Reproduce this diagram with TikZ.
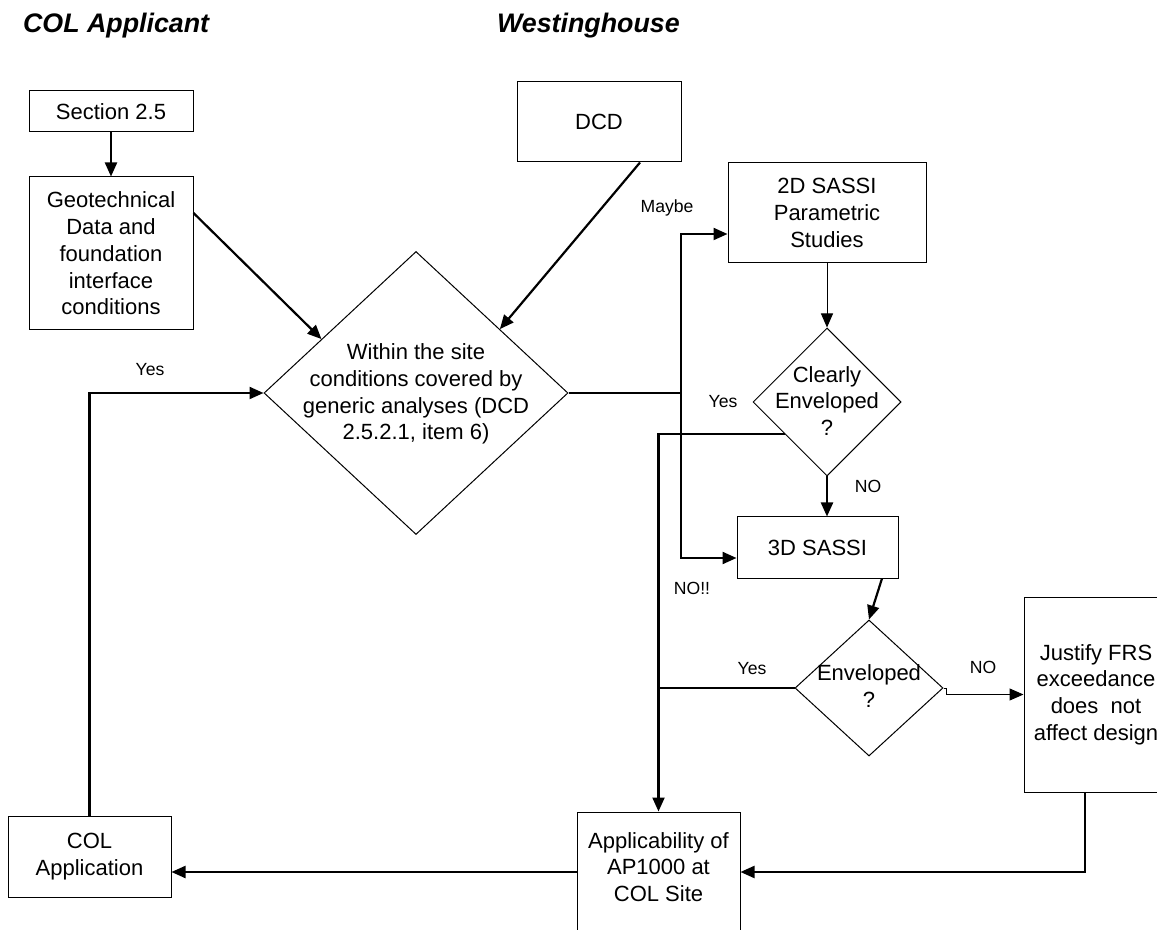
\documentclass[tikz,border=0pt]{standalone}
\usepackage{fontspec}
\setmainfont{Liberation Sans}
\usetikzlibrary{arrows.meta,calc,shapes.geometric}

\begin{document}
\begin{tikzpicture}[x=0.5pt, y=-0.5pt, >={Triangle[length=7pt,width=6pt]},
  box/.style={draw, line width=0.5pt, align=center, inner sep=0pt, font=\fontsize{11}{13.35}\selectfont},
  dia/.style={draw, diamond, line width=0.5pt, inner sep=0pt},
  txt/.style={align=center, font=\fontsize{11}{13.35}\selectfont},
  lbl/.style={font=\fontsize{8.8}{10}\selectfont},
  head/.style={anchor=base west, font=\fontsize{13.4}{15}\selectfont\bfseries\itshape},
  flow/.style={->, line width=1.1pt},
  thinflow/.style={->, line width=0.5pt}]
  \clip (0,0) rectangle (1157,930);

  % column headings
  \node[head] (hcol) at (16,33) {COL Applicant};
  \node[head] (hwest) at (490,33) {Westinghouse};

  % boxes
  \node[box, minimum width=82pt, minimum height=20.5pt] (sec25) at (111,111.5) {Section 2.5};
  \node[box, minimum width=82pt, minimum height=76.5pt] (geo) at (111,253.5) {Geotechnical\\Data and\\foundation\\interface\\conditions};
  \node[box, minimum width=82pt, minimum height=40pt] (dcd) at (599,122) {DCD};
  \node[box, minimum width=99pt, minimum height=50pt] (sassi2d) at (827,213) {2D SASSI\\Parametric\\Studies};
  \node[box, minimum width=80.5pt, minimum height=30.5pt] (sassi3d) at (817.5,547.5) {3D SASSI};
  \node[box, minimum width=72pt, minimum height=97.5pt] (justify) at (1096,694.5) {Justify FRS\\exceedance\\does\ \ not\\affect design};
  \node[box, minimum width=81.5pt, minimum height=40.5pt] (colapp) at (89.5,856.5) {COL\\Application};
  \node[box, minimum width=81.5pt, minimum height=69pt] (applic) at (658.5,881) {};
  \node[txt] (applictxt) at (658.5,867) {Applicability of\\AP1000 at\\COL Site};

  % decisions
  \node[dia, minimum width=152pt, minimum height=141.5pt] (within) at (416,393) {};
  \node[txt] (withintxt) at (416,394) {Within the site\\conditions covered by\\generic analyses (DCD\\2.5.2.1, item 6)};
  \node[dia, minimum width=74pt, minimum height=74pt] (clearly) at (827,402) {};
  \node[txt] (clearlytxt) at (827,401) {Clearly\\Enveloped\\?};
  \node[dia, minimum width=74pt, minimum height=68pt] (envel) at (869,688) {};
  \node[txt] (enveltxt) at (869,686) {Enveloped\\?};

  % connectors
  \draw[flow] (sec25) -- (geo);
  \draw[flow] ([yshift=20.25pt]geo.east) -- ($(within.west)!0.38!(within.north)$);
  \draw[flow] ([xshift=20.5pt]dcd.south) -- ($(within.north)!0.55!(within.east)$);
  \coordinate (split) at (681,393);
  \draw[line width=1.1pt] (within.east) -- (split);
  \draw[flow] (split) |- ([yshift=-10.5pt]sassi2d.west);
  \draw[flow] (split) |- ([yshift=-5.25pt]sassi3d.west);
  \draw[thinflow] (sassi2d) -- (clearly.north);
  \draw[flow] (clearly.south) -- (clearly.south |- sassi3d.north);
  \draw[flow] ($(clearly.west)!0.43!(clearly.south)$) -| (applic.north);
  \draw[line width=1.1pt] (envel.west) -- (envel.west -| applic.north);
  \draw[flow] ([xshift=32.25pt]sassi3d.south) -- (envel.north);
  \draw[thinflow] (envel.east) -- ++(1.5pt,0) |- (justify.west);
  \draw[flow] ([xshift=-5.5pt]justify.south) |- ([yshift=4.5pt]applic.east);
  \draw[flow] ([yshift=4.5pt]applic.west) -- ([yshift=-7.75pt]colapp.east);
  \draw[flow] (colapp.north) |- (within.west);

  % branch labels
  \node[lbl] (lyes1) at (150,370) {Yes};
  \node[lbl] (lmaybe) at (667,208) {Maybe};
  \node[lbl] (lyes2) at (723,402) {Yes};
  \node[lbl] (lno1) at (868,486) {NO};
  \node[lbl] (lno2) at (692,588) {NO!!};
  \node[lbl] (lyes3) at (752,669) {Yes};
  \node[lbl] (lno3) at (983,667) {NO};
\end{tikzpicture}
\end{document}
